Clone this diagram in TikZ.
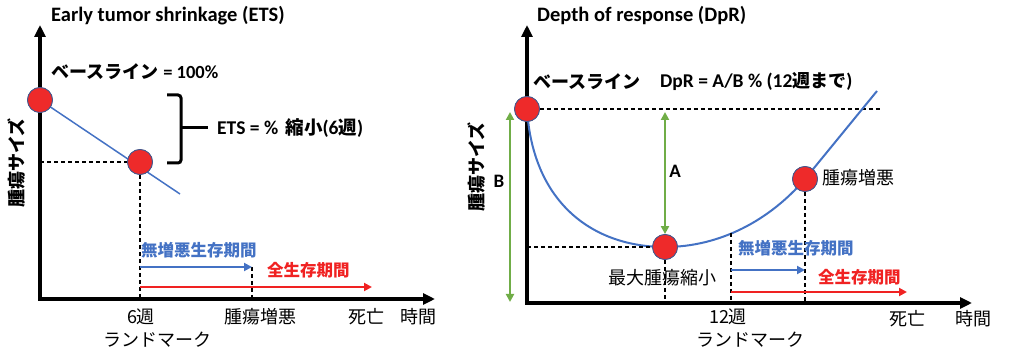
\documentclass[tikz,border=0pt]{standalone}
\usepackage{fontspec}
\setmainfont{Carlito}
\newfontfamily\jp{Noto Sans CJK JP}
\usetikzlibrary{arrows.meta}
\definecolor{dotred}{HTML}{EE2A2A}
\definecolor{dotedge}{HTML}{41598F}
\definecolor{lblue}{HTML}{4472C4}
\definecolor{lgreen}{HTML}{70AD47}
\definecolor{arrred}{HTML}{F02222}
\tikzset{
  dot/.style={circle, fill=dotred, draw=dotedge, line width=0.8pt, minimum size=25pt, inner sep=0pt},
  axis/.style={line width=3.5pt, {Triangle[length=12pt,width=11pt]}-{Triangle[length=12pt,width=11pt]}},
  dline/.style={line width=1.2pt, dash pattern=on 4pt off 3pt},
  barrow/.style={lblue, line width=2pt, -{Triangle[length=8pt,width=8pt]}},
  rarrow/.style={arrred, line width=2pt, -{Triangle[length=8pt,width=8pt]}},
  garrow/.style={lgreen, line width=2pt, {Triangle[length=8pt,width=8pt]}-{Triangle[length=8pt,width=8pt]}},
  curve/.style={lblue, line width=2pt},
  jl/.style={font=\jp\fontsize{18}{20}\selectfont, inner sep=0pt},
  jb/.style={font=\jp\bfseries\fontsize{18}{20}\selectfont, inner sep=0pt},
  ttl/.style={font=\bfseries\fontsize{20.5}{22}\selectfont, inner sep=0pt, anchor=base west},
  mix/.style={font=\bfseries\fontsize{19.5}{22}\selectfont, inner sep=0pt, anchor=west},
  bl/.style={font=\jp\bfseries\fontsize{16.5}{20}\selectfont, inner sep=0pt, anchor=west, text=lblue},
  rl/.style={font=\jp\bfseries\fontsize{16.5}{20}\selectfont, inner sep=0pt, anchor=west, text=arrred},
}
\begin{document}
\begin{tikzpicture}[x=1pt,y=-1pt]
\useasboundingbox (0,0) rectangle (1012,355);
% ================= LEFT PANEL =================
\node[ttl] (t1) at (51,22) {Early tumor shrinkage (ETS)};
\coordinate (ly) at (40,25);
\coordinate (lx) at (435,299);
\draw[axis] (ly) |- (lx);
\coordinate (lo) at (40,162);
\coordinate (lend) at (180,194);
\coordinate (l6) at (140,299);
\coordinate (lp) at (252,299);
\coordinate (lpt) at (252,267);
\coordinate (lrend) at (372,287);
\coordinate (lrs) at (140,287);
\coordinate (lbs) at (140,267);
\node[dot] (c1) at (40,100) {};
\node[dot] (c2) at (140,162) {};
\draw[lblue, line width=1.5pt] (c1.center) -- (lend);
\node[dot] at (c1) {};
\node[dot] at (c2) {};
\draw[dline] (lo) -- (c2.west);
\draw[dline] (c2.south) -- (l6);
\draw[dline] (lpt) -- (lp);
\draw[barrow] (lbs) -- (lpt);
\draw[rarrow] (lrs) -- (lrend);
\node[anchor=west, inner sep=0pt] (bl1) at (51,72) {{\jp\bfseries\fontsize{18}{20}\selectfont ベースライン}\hspace{5pt}{\bfseries\fontsize{18.5}{20}\selectfont = 100\%}};
% brace
\draw[line width=3pt, rounded corners=3pt] (167,95) -- (181,95) -- (181,163) -- (167,163);
\draw[line width=3pt] (181,128) -- (208,128);
\node[mix] (ets) at (217,128) {ETS = \%\hspace{3pt} {\jp\fontsize{18.5}{20}\selectfont 縮小}(6{\jp\fontsize{18.5}{20}\selectfont 週})};
\node[bl] (pfs1) at (141,250) {無増悪生存期間};
\node[rl] (os1) at (267,270) {全生存期間};
\node[jl] (w6) at (141,317) {6週};
\node[jl] (pd1) at (260,317) {腫瘍増悪};
\node[jl] (d1) at (366,317) {死亡};
\node[jl] (tm1) at (418,317) {時間};
\node[jl] (lm1) at (157,340) {ランドマーク};
\node[jb, rotate=90] (ya1) at (17,163) {腫瘍サイズ};
% ================= RIGHT PANEL =================
\node[ttl] (t2) at (537,22) {Depth of response (DpR)};
\coordinate (ry) at (527,25);
\coordinate (rx) at (972,303);
\coordinate (rdash) at (880,109);
\coordinate (rmin0) at (527,247);
\coordinate (rmn) at (665,303);
\coordinate (r12t) at (731,233);
\coordinate (r12) at (731,303);
\coordinate (rpd) at (805,303);
\coordinate (rend) at (877,91);
\coordinate (bt) at (510,112);
\coordinate (bb) at (510,302);
\coordinate (at) at (665,112);
\coordinate (rbs) at (731,270);
\coordinate (rbe) at (805,270);
\coordinate (rrs) at (731,292);
\coordinate (rre) at (907,292);
\draw[axis] (ry) |- (rx);
\node[dot] (d0) at (527,109) {};
\node[dot] (dm) at (665,247) {};
\node[dot] (dp) at (805,179) {};
\draw[dline] (d0.east) -- (rdash);
\draw[curve] (d0.center) .. controls (533,205) and (595,247) .. (dm.center)
   .. controls (720,247) and (770,220) .. (dp.center) -- (rend);
\draw[dline] (rmin0) -- (dm.west);
\draw[dline] (dm.south) -- (rmn);
\draw[dline] (r12t) -- (r12);
\draw[dline] (dp.south) -- (rpd);
\node[dot] at (d0) {};
\node[dot] at (dm) {};
\node[dot] at (dp) {};
\draw[garrow] (bt) -- (bb);
\draw[garrow] (at) -- (dm.north);
\draw[barrow] (rbs) -- (rbe);
\draw[rarrow] (rrs) -- (rre);
\node[jb, anchor=west] (bl2) at (533,82) {ベースライン};
\node[mix] (dpr) at (660,82) {DpR = A/B \% (12{\jp\fontsize{18}{20}\selectfont 週まで})};
\node[font=\bfseries\fontsize{19}{20}\selectfont, inner sep=0pt] (lb) at (499,181) {B};
\node[font=\bfseries\fontsize{19}{20}\selectfont, inner sep=0pt] (la) at (675,171) {A};
\node[jl, anchor=west] (pd2) at (822,178) {腫瘍増悪};
\node[jl] (mx) at (662,278) {最大腫瘍縮小};
\node[bl] (pfs2) at (738,248) {無増悪生存期間};
\node[rl] (os2) at (818,277) {全生存期間};
\node[jl] (w12) at (728,317) {12週};
\node[jl] (d2) at (907,319) {死亡};
\node[jl] (tm2) at (973,319) {時間};
\node[jl] (lm2) at (750,340) {ランドマーク};
\node[jb, rotate=90] (ya2) at (477,167) {腫瘍サイズ};
\end{tikzpicture}
\end{document}
